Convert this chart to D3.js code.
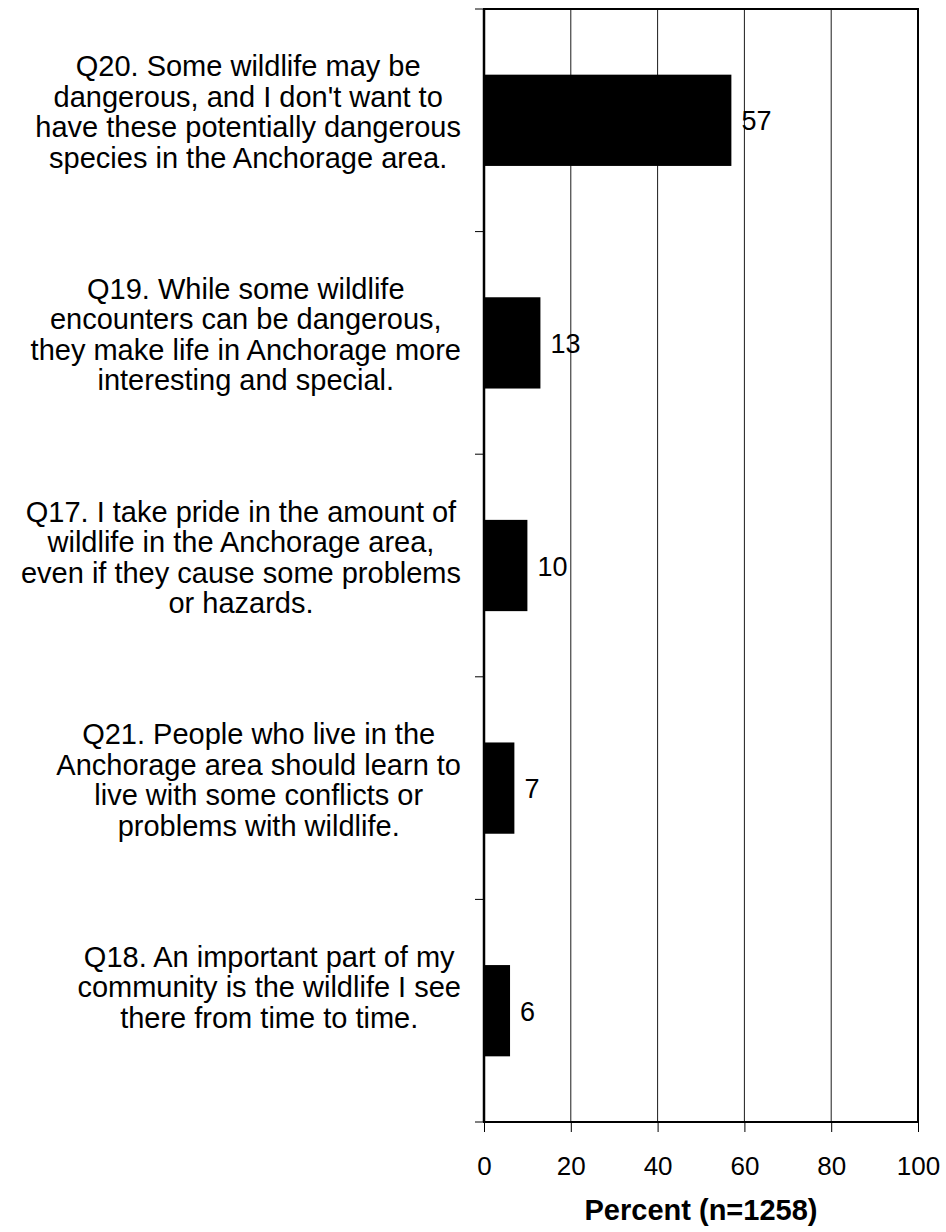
<!DOCTYPE html>
<html>
<head>
<meta charset="utf-8">
<script src="https://cdn.jsdelivr.net/npm/d3@7"></script>
<style>
  html, body { margin: 0; padding: 0; background: #fff; }
  svg { display: block; }
  text { font-family: "Liberation Sans", Arial, sans-serif; fill: #000; }
</style>
</head>
<body>
<svg id="chart" width="946" height="1232"></svg>
<script>
// ---- data ----
const categories = [
  ["Q20. Some wildlife may be", "dangerous, and I don't want to", "have these potentially dangerous", "species in the Anchorage area."],
  ["Q19. While some wildlife", "encounters can be dangerous,", "they make life in Anchorage more", "interesting and special."],
  ["Q17. I take pride in the amount of", "wildlife in the Anchorage area,", "even if they cause some problems", "or hazards."],
  ["Q21. People who live in the", "Anchorage area should learn to", "live with some conflicts or", "problems with wildlife."],
  ["Q18. An important part of my", "community is the wildlife I see", "there from time to time."]
];
const categoryIds = ["Q20", "Q19", "Q17", "Q21", "Q18"];
const values = [57, 13, 10, 7, 6];
const xTicks = [0, 20, 40, 60, 80, 100];
const xTitle = "Percent (n=1258)";

// ---- layout ----
const svg = d3.select("#chart");
const pLeft = 484, pRight = 918, pTop = 9, pBottom = 1122;

const x = d3.scaleLinear().domain([0, 100]).range([pLeft, pRight]);
const y = d3.scaleBand().domain(categoryIds).range([pTop, pBottom]).paddingInner(0.59).paddingOuter(0.295);
const yEdge = d3.scaleLinear().domain([0, categoryIds.length]).range([pTop, pBottom]);

// gridlines
svg.append("g").selectAll("line")
  .data(xTicks.filter(d => d > 0 && d < 100))
  .join("line")
  .attr("x1", d => x(d)).attr("x2", d => x(d))
  .attr("y1", pTop).attr("y2", pBottom)
  .attr("stroke", "#000").attr("stroke-width", 0.9);

// bars
svg.append("g").selectAll("rect")
  .data(values)
  .join("rect")
  .attr("x", x(0))
  .attr("y", (d, i) => y(categoryIds[i]))
  .attr("width", d => x(d) - x(0))
  .attr("height", y.bandwidth())
  .attr("fill", "#000");

// value labels
svg.append("g").selectAll("text")
  .data(values)
  .join("text")
  .attr("x", d => x(d) + 10)
  .attr("y", (d, i) => y(categoryIds[i]) + y.bandwidth() / 2 + 10)
  .attr("font-size", 27)
  .text(d => d);

// frame
svg.append("rect")
  .attr("x", pLeft).attr("y", pTop)
  .attr("width", pRight - pLeft).attr("height", pBottom - pTop)
  .attr("fill", "none").attr("stroke", "#000").attr("stroke-width", 2);
svg.append("line")
  .attr("x1", pLeft).attr("x2", pLeft).attr("y1", pTop).attr("y2", pBottom)
  .attr("stroke", "#000").attr("stroke-width", 2.5);

// y category ticks (outward)
svg.append("g").selectAll("line")
  .data(d3.range(categoryIds.length + 1))
  .join("line")
  .attr("x1", pLeft - 9).attr("x2", pLeft)
  .attr("y1", d => yEdge(d)).attr("y2", d => yEdge(d))
  .attr("stroke", "#000").attr("stroke-width", 1);

// x axis ticks & labels
const xAxis = d3.axisBottom(x).tickValues(xTicks).tickSize(10).tickPadding(24).tickFormat(d3.format("d"));
const gx = svg.append("g").attr("transform", `translate(0,${pBottom})`).call(xAxis);
gx.select(".domain").remove();
gx.selectAll(".tick line").attr("stroke", "#000").attr("stroke-width", 1);
gx.selectAll(".tick text")
  .attr("font-size", 26)
  .attr("font-family", '"Liberation Sans", Arial, sans-serif')
  .attr("fill", "#000")
  .attr("dy", null)
  .attr("y", 53);

// x title
svg.append("text")
  .attr("x", (pLeft + pRight) / 2).attr("y", 1220)
  .attr("text-anchor", "middle")
  .attr("font-size", 29).attr("font-weight", "bold")
  .text(xTitle);

// category labels (block right edge near axis, lines centered in block)
const labelRight = 461, lineH = 30.5;
categories.forEach((lines, i) => {
  const cy = y(categoryIds[i]) + y.bandwidth() / 2;
  const g = svg.append("g");
  const texts = g.selectAll("text").data(lines).join("text")
    .attr("font-size", 29)
    .attr("text-anchor", "middle")
    .attr("y", (d, j) => cy - 44 + j * lineH)
    .text(d => d);
  let maxW = 0;
  texts.each(function () { maxW = Math.max(maxW, this.getComputedTextLength()); });
  texts.attr("x", labelRight - maxW / 2);
});
</script>
</body>
</html>
